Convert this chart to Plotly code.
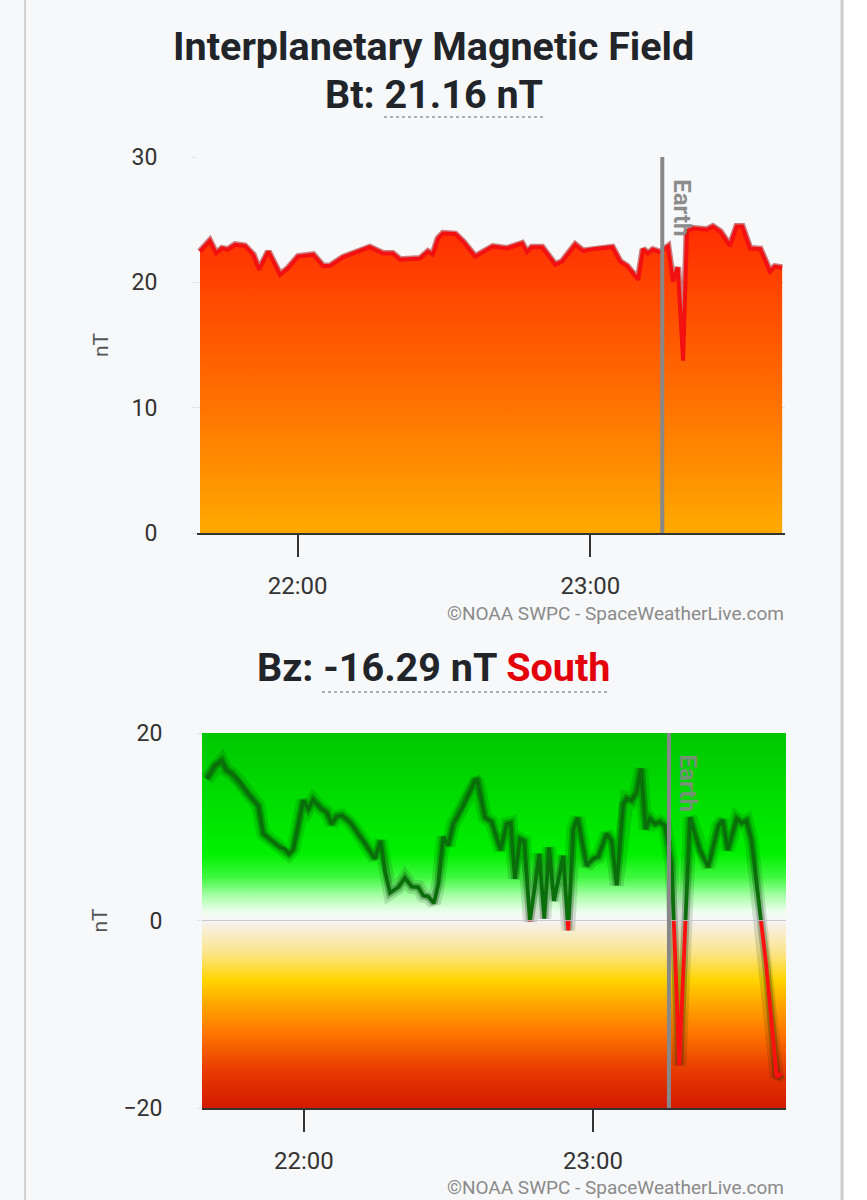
import plotly.graph_objects as go
import pandas as pd

DATE = "2024-05-10 "

# ---------------- data ----------------
bt_times = ["21:40:00", "21:42:00", "21:43:18", "21:44:30", "21:45:42", "21:47:12", "21:49:12", "21:50:54",
            "21:52:06", "21:54:00", "21:56:24", "21:58:00", "22:00:06", "22:03:12", "22:05:12", "22:06:36",
            "22:09:18", "22:12:12", "22:14:48", "22:17:30", "22:19:30", "22:21:00", "22:25:06", "22:26:42",
            "22:27:42", "22:28:48", "22:29:48", "22:32:18", "22:33:54", "22:36:24", "22:38:00", "22:40:00",
            "22:42:54", "22:46:00", "22:47:00", "22:48:00", "22:50:06", "22:52:48", "22:54:12", "22:56:54",
            "22:58:30", "23:00:36", "23:04:30", "23:06:06", "23:07:30", "23:09:48", "23:10:48", "23:11:48",
            "23:12:48", "23:14:18", "23:15:54", "23:16:54", "23:17:54", "23:19:00", "23:19:48", "23:21:00",
            "23:23:54", "23:25:06", "23:26:36", "23:28:36", "23:30:00", "23:31:06", "23:32:42", "23:34:48",
            "23:36:48", "23:37:48", "23:39:18"]
bt_values = [22.45, 23.3, 22.3, 22.7, 22.6, 23.0, 22.9, 22.2,
             21.0, 22.45, 20.6, 21.1, 22.05, 22.2, 21.3, 21.3,
             22.0, 22.45, 22.8, 22.3, 22.3, 21.8, 21.9, 22.45,
             22.2, 23.5, 23.9, 23.85, 23.25, 22.05, 22.4, 22.85,
             22.7, 23.1, 22.4, 22.8, 22.8, 21.4, 21.65, 23.0,
             22.5, 22.65, 22.8, 21.65, 21.3, 20.2, 22.65, 22.3,
             22.6, 22.4, 22.85, 20.05, 21.2, 13.75, 24.05, 24.3,
             24.2, 24.45, 24.05, 22.9, 24.45, 24.45, 22.7, 22.65,
             20.85, 21.25, 21.16]

bz_times = ["21:39:48", "21:41:31", "21:42:55", "21:43:57", "21:44:59", "21:46:43", "21:48:26", "21:50:31",
            "21:51:33", "21:53:17", "21:55:01", "21:56:04", "21:56:53", "21:57:47", "21:58:49", "21:59:51",
            "22:00:53", "22:01:56", "22:03:40", "22:04:43", "22:05:45", "22:06:47", "22:07:50", "22:09:33",
            "22:12:19", "22:14:44", "22:15:55", "22:16:49", "22:17:51", "22:19:35", "22:20:58", "22:22:22",
            "22:23:44", "22:24:46", "22:25:48", "22:26:59", "22:27:53", "22:28:55", "22:29:57", "22:31:00",
            "22:32:44", "22:34:07", "22:35:30", "22:35:59", "22:37:34", "22:38:58", "22:40:50", "22:42:05",
            "22:42:55", "22:43:48", "22:44:50", "22:45:44", "22:46:55", "22:48:51", "22:49:53", "22:50:52",
            "22:51:54", "22:53:50", "22:54:52", "22:55:55", "22:56:49", "22:58:41", "23:00:04", "23:01:06",
            "23:02:50", "23:03:53", "23:04:55", "23:06:17", "23:07:00", "23:08:02", "23:09:04", "23:09:58",
            "23:10:56", "23:11:50", "23:12:52", "23:13:54", "23:14:56", "23:16:20", "23:17:55", "23:20:08",
            "23:22:13", "23:23:56", "23:26:01", "23:26:55", "23:27:58", "23:29:50", "23:30:52", "23:31:54",
            "23:32:56", "23:35:55", "23:38:08", "23:39:10"]
bz_values = [15.1, 16.5, 17.05, 16.0, 15.7, 14.75, 13.5, 12.25,
             9.25, 8.5, 7.8, 7.6, 7.1, 7.6, 10.3, 12.8,
             11.9, 12.85, 11.9, 11.55, 10.3, 11.1, 11.2, 10.5,
             8.5, 6.6, 8.5, 5.3, 2.95, 3.55, 4.55, 3.6,
             3.55, 2.65, 2.55, 1.85, 3.9, 8.9, 8.0, 10.3,
             11.9, 13.5, 14.9, 15.0, 11.0, 10.5, 7.5, 10.3,
             10.4, 4.45, 8.7, 8.45, -0.1, 7.1, 0.2, 7.8,
             2.1, 6.9, -1.05, 9.75, 10.95, 5.85, 6.6, 6.8,
             9.25, 8.5, 3.75, 12.45, 13.0, 12.8, 13.7, 16.2,
             9.75, 10.85, 10.3, 10.5, 10.1, 6.05, -15.45, 11.0,
             7.5, 5.7, 10.1, 10.7, 7.5, 10.85, 10.4, 10.65,
             8.5, -4.6, -16.7, -16.29]

x_tick_labels = ["22:00", "23:00"]
bt_y_ticks = [0, 10, 20, 30]
bz_y_ticks = [-20, 0, 20]
bt_x_range = ["21:39:23", "23:39:53"]
bz_x_range = ["21:38:50", "23:40:04"]
earth_bt = "23:14:44"
earth_bz = "23:15:46"
bt_now = "21.16"
bz_now = "-16.29"

# ---------------- helpers ----------------
W, H = 867, 1200
def px(x): return x / W
def py(y): return 1 - y / H
def ts(t): return pd.Timestamp(DATE + t)

def split_by_sign(times, vals):
    t = [ts(s) for s in times]
    gx, gy, rx, ry = [], [], [], []
    for i, v in enumerate(vals):
        if i > 0:
            v0 = vals[i - 1]
            if (v0 >= 0) != (v >= 0):
                f = v0 / (v0 - v)
                tc = t[i - 1] + (t[i] - t[i - 1]) * f
                if v0 >= 0:
                    gx += [tc, None]; gy += [0, None]
                    rx.append(tc); ry.append(0)
                else:
                    rx += [tc, None]; ry += [0, None]
                    gx.append(tc); gy.append(0)
        if v >= 0:
            gx.append(t[i]); gy.append(v)
        else:
            rx.append(t[i]); ry.append(v)
    return gx, gy, rx, ry

FONT = "Roboto"
fig = go.Figure()

# ---------------- top chart (Bt) ----------------
bt_x = [ts(s) for s in bt_times]
fig.add_trace(go.Scatter(
    x=bt_x, y=bt_values, mode="lines", xaxis="x", yaxis="y",
    line=dict(color="rgba(160,0,0,0.5)", width=7), hoverinfo="skip", showlegend=False))
fig.add_trace(go.Scatter(
    x=bt_x, y=bt_values, mode="lines", xaxis="x", yaxis="y",
    fill="tozeroy",
    fillgradient=dict(type="vertical", start=0, stop=25,
                      colorscale=[[0, "#ffaa00"], [0.45, "#ff6d00"], [1, "#ff2a00"]]),
    line=dict(color="#f21010", width=4), showlegend=False))

# ---------------- bottom chart (Bz) ----------------
bz_x = [ts(s) for s in bz_times]
r0, r1 = ts(bz_x_range[0]), ts(bz_x_range[1])
ylo, yhi = bz_y_ticks[0], bz_y_ticks[-1]
fig.add_trace(go.Scatter(
    x=[r0, r1, r1, r0, r0], y=[ylo, ylo, yhi, yhi, ylo], mode="lines", xaxis="x2", yaxis="y2",
    fill="toself", line=dict(width=0),
    fillgradient=dict(type="vertical", start=ylo, stop=yhi,
                      colorscale=[[0, "#d41a00"], [0.1, "#e83c00"], [0.2, "#ff7800"],
                                  [0.275, "#ffa600"], [0.3375, "#ffd400"], [0.4125, "#fbe58c"],
                                  [0.4875, "#f7f1e6"], [0.5, "#f7f7f7"], [0.52, "#effdef"],
                                  [0.5625, "#a8ffa8"], [0.6125, "#40f840"], [0.675, "#00f000"],
                                  [0.8, "#00e000"], [1, "#00c600"]]),
    hoverinfo="skip", showlegend=False))
fig.add_shape(type="line", xref="x2", yref="y2", x0=r0, x1=r1, y0=0, y1=0,
              line=dict(color="rgba(190,190,200,0.8)", width=1))
fig.add_trace(go.Scatter(
    x=bz_x, y=bz_values, mode="lines", xaxis="x2", yaxis="y2",
    line=dict(color="rgba(0,30,0,0.13)", width=14), hoverinfo="skip", showlegend=False))
fig.add_trace(go.Scatter(
    x=bz_x, y=bz_values, mode="lines", xaxis="x2", yaxis="y2",
    line=dict(color="rgba(0,30,0,0.25)", width=8), hoverinfo="skip", showlegend=False))
gx, gy, rx, ry = split_by_sign(bz_times, bz_values)
fig.add_trace(go.Scatter(x=gx, y=gy, mode="lines", xaxis="x2", yaxis="y2",
                         line=dict(color="#0a6f0a", width=3.8), connectgaps=False, showlegend=False))
fig.add_trace(go.Scatter(x=rx, y=ry, mode="lines", xaxis="x2", yaxis="y2",
                         line=dict(color="#ff1010", width=3.8), connectgaps=False, showlegend=False))

# ---------------- axes ----------------
xtick_font = dict(family=FONT, size=24, color="#333333")
ytick_font = dict(family=FONT, size=23, color="#333333")
def xaxis(domain, rng, anchor):
    return dict(domain=domain, anchor=anchor, type="date", automargin=False,
                range=[ts(rng[0]), ts(rng[1])],
                tickvals=[ts(t) for t in x_tick_labels], ticktext=x_tick_labels,
                ticks="outside", ticklen=22, tickwidth=2, tickcolor="#333333",
                ticklabelstandoff=8,
                showline=True, linecolor="#333333", linewidth=2,
                showgrid=False, zeroline=False, tickfont=xtick_font, fixedrange=True)

def yaxis(domain, rng, tickv, anchor, grid, standoff):
    return dict(domain=domain, anchor=anchor, range=rng, tickvals=tickv, automargin=False,
                showgrid=grid, gridcolor="#e2e3e6", gridwidth=1, zeroline=False,
                ticks="outside", ticklen=4, tickcolor="#e2e3e6",
                ticklabelstandoff=30, showline=False, tickfont=ytick_font,
                title=dict(text="nT", font=dict(family=FONT, size=21, color="#555555"), standoff=standoff),
                fixedrange=True)

fig.update_layout(
    width=W, height=H, autosize=False,
    margin=dict(l=0, r=0, t=0, b=0, pad=0, autoexpand=False),
    paper_bgcolor="#f7f8fa", plot_bgcolor="rgba(0,0,0,0)",
    font=dict(family=FONT),
    xaxis=xaxis([px(197), px(785)], bt_x_range, "y"),
    yaxis=yaxis([py(533), py(157)], [0, 30], bt_y_ticks, "x", True, 17),
    xaxis2=xaxis([px(202), px(786)], bz_x_range, "y2"),
    yaxis2=yaxis([py(1108), py(733)], [ylo, yhi], bz_y_ticks, "x2", False, 10),
)

# earth lines and labels
for xr, yr, et, col in [("x", "y", earth_bt, "#8c8c8c"), ("x2", "y2", earth_bz, "rgba(135,135,135,0.9)")]:
    fig.add_shape(type="line", xref=xr, yref=yr + " domain", x0=ts(et), x1=ts(et), y0=0, y1=1,
                  line=dict(color="#888888", width=4), layer="above")
    fig.add_annotation(x=ts(et), y=1, xref=xr, yref=yr + " domain", text="Earth", textangle=90,
                       showarrow=False, xanchor="left", yanchor="top", xshift=4, yshift=-20,
                       font=dict(family=FONT, size=24, color=col, weight="bold"))

# page borders
fig.add_shape(type="rect", xref="paper", yref="paper", x0=px(843), x1=1, y0=0, y1=1,
              fillcolor="#ffffff", line=dict(width=0), layer="below")
fig.add_shape(type="line", xref="paper", yref="paper", x0=px(25), x1=px(25), y0=0, y1=1,
              line=dict(color="#d2d2d2", width=2))
fig.add_shape(type="line", xref="paper", yref="paper", x0=px(842), x1=px(842), y0=0, y1=1,
              line=dict(color="#cccccc", width=3))

# titles
title_font = dict(family=FONT, size=39.5, color="#212529", weight="bold")
fig.add_annotation(x=px(433), y=py(46), xref="paper", yref="paper", showarrow=False,
                   text="Interplanetary Magnetic Field", font=title_font, xanchor="center", yanchor="middle")
fig.add_annotation(x=px(434), y=py(95), xref="paper", yref="paper", showarrow=False,
                   text=f"Bt: {bt_now} nT", font=title_font, xanchor="center", yanchor="middle")
fig.add_annotation(x=px(433), y=py(667), xref="paper", yref="paper", showarrow=False,
                   text=f"Bz: {bz_now} nT <span style='color:#e3000b'>South</span>",
                   font=title_font, xanchor="center", yanchor="middle")
for x0, x1, y in [(384, 543, 117), (322, 610, 692)]:
    fig.add_shape(type="line", xref="paper", yref="paper", x0=px(x0), x1=px(x1), y0=py(y), y1=py(y),
                  line=dict(color="#666666", width=1.2, dash="dot"))

# credits
for y in [613, 1187]:
    fig.add_annotation(x=px(786), y=py(y), xref="paper", yref="paper", showarrow=False,
                       text="©NOAA SWPC - SpaceWeatherLive.com", xanchor="right", yanchor="middle",
                       font=dict(family=FONT, size=19, color="#8a8a8a"))

fig.write_html("out.html", config={"displayModeBar": False},
               post_script="document.body.style.margin='0';document.body.style.overflow='hidden';")
